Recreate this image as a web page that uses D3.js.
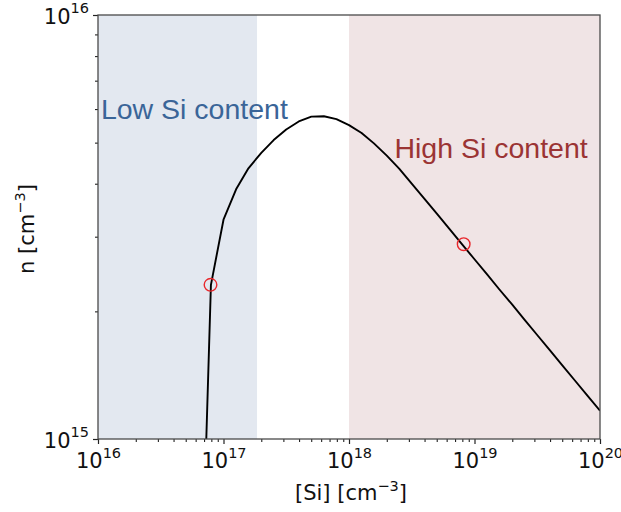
<!DOCTYPE html>
<html>
<head>
<meta charset="utf-8">
<script src="https://cdn.jsdelivr.net/npm/d3@7"></script>
<style>
  html, body { margin: 0; padding: 0; background: #ffffff; }
  svg { display: block; }
</style>
</head>
<body>
<svg id="chart" width="621" height="512"></svg>
<script>
// Silicon concentration [cm^-3] (sampled every 0.1 decade)
const siConc = [
  6.31e16, 7.94e16, 1.00e17, 1.26e17, 1.58e17, 2.00e17, 2.51e17, 3.16e17,
  3.98e17, 5.01e17, 6.31e17, 7.94e17, 1.00e18, 1.26e18, 1.58e18, 2.00e18,
  2.51e18, 3.16e18, 3.98e18, 5.01e18, 6.31e18, 7.94e18, 1.00e19, 1.26e19,
  1.58e19, 2.00e19, 2.51e19, 3.16e19, 3.98e19, 5.01e19, 6.31e19, 7.94e19,
  1.00e20
];
// Free electron density n [cm^-3]
const electronDensity = [
  2.4e14, 2.31e15, 3.29e15, 3.88e15, 4.35e15, 4.73e15, 5.07e15, 5.37e15,
  5.61e15, 5.76e15, 5.77e15, 5.68e15, 5.50e15, 5.27e15, 4.98e15, 4.66e15,
  4.34e15, 4.00e15, 3.69e15, 3.40e15, 3.13e15, 2.882e15, 2.654e15, 2.445e15,
  2.252e15, 2.074e15, 1.910e15, 1.759e15, 1.620e15, 1.492e15, 1.374e15, 1.266e15,
  1.166e15
];
// Highlighted samples (red open circles)
const markedSi = [7.88e16, 8.2e18];
const markedN  = [2.31e15, 2.88e15];

// Shaded concentration regimes
const regionLabels = ["Low Si content", "High Si content"];
const regionStart  = [1e16, 1e18];
const regionEnd    = [1.85e17, 1e20];

// Axis decades (labels are 10^exp)
const xTickExps = [16, 17, 18, 19, 20];
const yTickExps = [15, 16];

const margin = { left: 98, top: 15, right: 21, bottom: 73 };
const W = 621, H = 512;
const innerW = W - margin.left - margin.right;
const innerH = H - margin.top - margin.bottom;

const svg = d3.select("#chart");
const g = svg.append("g").attr("transform", `translate(${margin.left},${margin.top})`);

const x = d3.scaleLog().domain([1e16, 1e20]).range([0, innerW]);
const y = d3.scaleLog().domain([1e15, 1e16]).range([innerH, 0]);

// clip to plotting area
svg.append("defs").append("clipPath").attr("id", "plotClip")
  .append("rect").attr("width", innerW).attr("height", innerH);

// shaded regions
const regionFill = ["#e3e8f0", "#f0e4e5"];
g.selectAll("rect.region")
  .data(regionStart.map((s, i) => ({ s, e: regionEnd[i], i })))
  .join("rect")
  .attr("class", "region")
  .attr("x", d => x(d.s))
  .attr("y", 0)
  .attr("width", d => x(d.e) - x(d.s))
  .attr("height", innerH)
  .attr("fill", d => regionFill[d.i]);

// region labels (anchored in data coordinates)
const labelColor = ["#3a6598", "#9b3434"];
const labelPos = [{ xv: 1.055e16, n: 5.68e15 }, { xv: 2.30e18, n: 4.59e15 }];
g.selectAll("text.region-label")
  .data(regionLabels)
  .join("text")
  .attr("class", "region-label")
  .attr("x", (d, i) => x(labelPos[i].xv))
  .attr("y", (d, i) => y(labelPos[i].n))
  .attr("fill", (d, i) => labelColor[i])
  .attr("font-family", "'Liberation Sans', Arial, sans-serif")
  .attr("font-size", 28.5)
  .text(d => d);

// curve
const pts = siConc.map((s, i) => [s, electronDensity[i]]);
const line = d3.line()
  .x(d => x(d[0]))
  .y(d => y(d[1]));
g.append("path")
  .datum(pts)
  .attr("clip-path", "url(#plotClip)")
  .attr("d", line)
  .attr("fill", "none")
  .attr("stroke", "#000")
  .attr("stroke-width", 1.9)
  .attr("stroke-linejoin", "round");

// marked points
g.selectAll("circle.mark")
  .data(markedSi.map((s, i) => [s, markedN[i]]))
  .join("circle")
  .attr("class", "mark")
  .attr("cx", d => x(d[0]))
  .attr("cy", d => y(d[1]))
  .attr("r", 6.3)
  .attr("fill", "none")
  .attr("stroke", "#e8262b")
  .attr("stroke-width", 1.4);

// minor tick values
function minorTicks(lo, hi) {
  const out = [];
  for (let e = lo; e < hi; e++) for (let m = 2; m <= 9; m++) out.push(m * Math.pow(10, e));
  return out;
}

const tickFont = "'DejaVu Sans', sans-serif";
const baseSize = 21, supSize = 14.5;

// x axis: minor then major
g.append("g").attr("transform", `translate(0,${innerH})`)
  .call(d3.axisBottom(x).tickValues(minorTicks(16, 20)).tickSize(3).tickFormat(""))
  .call(a => a.select(".domain").remove())
  .selectAll("line").attr("stroke", "#222").attr("stroke-width", 1.1);

const xAxis = g.append("g").attr("transform", `translate(0,${innerH})`)
  .call(d3.axisBottom(x).tickValues(xTickExps.map(e => Math.pow(10, e))).tickSize(5));
xAxis.select(".domain").remove();
xAxis.selectAll("line").attr("stroke", "#222").attr("stroke-width", 1.2);
xAxis.selectAll(".tick text")
  .attr("font-family", tickFont).attr("font-size", baseSize).attr("fill", "#111")
  .attr("y", 29).attr("dy", 0)
  .each(function (d, i) {
    const t = d3.select(this).text(null);
    t.append("tspan").text("10");
    t.append("tspan").attr("dy", -10.5).attr("font-size", supSize).text(xTickExps[i]);
  });

// y axis
g.append("g")
  .call(d3.axisLeft(y).tickValues(minorTicks(15, 16)).tickSize(3).tickFormat(""))
  .call(a => a.select(".domain").remove())
  .selectAll("line").attr("stroke", "#222").attr("stroke-width", 1.1);

const yAxis = g.append("g")
  .call(d3.axisLeft(y).tickValues(yTickExps.map(e => Math.pow(10, e))).tickSize(5));
yAxis.select(".domain").remove();
yAxis.selectAll("line").attr("stroke", "#222").attr("stroke-width", 1.2);
yAxis.selectAll(".tick text")
  .attr("font-family", tickFont).attr("font-size", baseSize).attr("fill", "#111")
  .attr("x", -9).attr("y", 8).attr("dy", 0)
  .each(function (d, i) {
    const t = d3.select(this).text(null);
    t.append("tspan").text("10");
    t.append("tspan").attr("dy", -10.5).attr("font-size", supSize).text(yTickExps[i]);
  });

// frame
g.append("rect")
  .attr("width", innerW).attr("height", innerH)
  .attr("fill", "none").attr("stroke", "#4a4a4a").attr("stroke-width", 1.3);

// axis titles
const xTitle = svg.append("text")
  .attr("x", margin.left + innerW / 2 + 2)
  .attr("y", 500)
  .attr("text-anchor", "middle")
  .attr("font-family", tickFont)
  .attr("font-size", baseSize)
  .attr("fill", "#111");
xTitle.append("tspan").text("[Si] [cm");
xTitle.append("tspan").attr("dy", -9.5).attr("font-size", supSize).text("\u22123");
xTitle.append("tspan").attr("dy", 9.5).text("]");

const yTitle = svg.append("text")
  .attr("transform", `translate(34,${margin.top + innerH / 2 + 2}) rotate(-90)`)
  .attr("text-anchor", "middle")
  .attr("font-family", tickFont)
  .attr("font-size", baseSize)
  .attr("fill", "#111");
yTitle.append("tspan").text("n [cm");
yTitle.append("tspan").attr("dy", -9.5).attr("font-size", supSize).text("\u22123");
yTitle.append("tspan").attr("dy", 9.5).text("]");
</script>
</body>
</html>
